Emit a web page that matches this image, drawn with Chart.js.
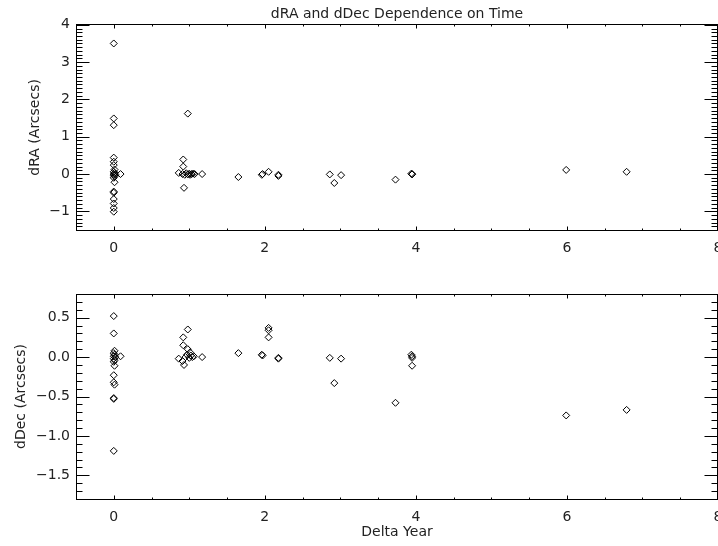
<!DOCTYPE html>
<html>
<head>
<meta charset="utf-8">
<script src="https://cdn.jsdelivr.net/npm/chart.js@4"></script>
<style>
    html, body { margin: 0; padding: 0; background: #fff; overflow: hidden; }
    .panel { position: absolute; left: 0; width: 718px; }
    #top { top: 0; height: 270px; }
    #bottom { top: 270px; height: 276px; }
</style>
</head>
<body>
<div class="panel" id="top"><canvas id="raChart"></canvas></div>
<div class="panel" id="bottom"><canvas id="decChart"></canvas></div>
<script>
// tick labels
const yearTicks = [0, 2, 4, 6, 8];
const raTicks = [-1, 0, 1, 2, 3, 4];
const decTicks = [-1.5, -1.0, -0.5, 0.0, 0.5];

// dRA vs delta year
const raYear = [
    0.00, 0.00, 0.00, 0.00, 0.00, 0.00, 0.01, 0.00, 0.01, 0.00, 0.02, 0.00, 0.01, 0.00, 0.01,
    0.00, 0.00, 0.00, 0.00, 0.00, 0.00, 0.09,
    0.86, 0.92, 0.92, 0.91, 0.93, 0.94, 0.96, 0.98, 0.98, 1.00, 1.01, 1.03, 1.05, 1.07, 1.17, 1.65,
    1.96, 1.97, 2.05, 2.18, 2.18, 2.86, 2.92, 3.01, 3.73, 3.94, 3.95, 3.95, 5.99, 6.79
];
const raValue = [
    3.50, 1.49, 1.31, 0.44, 0.33, 0.24, 0.12, 0.06, 0.03, 0.00, -0.01, -0.03, -0.06, -0.10, -0.22,
    -0.47, -0.50, -0.67, -0.79, -0.91, -1.01, 0.00,
    0.03, 0.39, 0.20, 0.00, -0.37, -0.02, 0.02, 1.62, -0.01, 0.01, -0.02, 0.00, 0.01, 0.00, 0.00, -0.08,
    -0.02, 0.00, 0.06, -0.02, -0.05, -0.01, -0.24, -0.03, -0.15, 0.01, -0.01, 0.00, 0.11, 0.06
];

// dDec vs delta year
const decYear = [
    0.00, 0.00, 0.01, 0.00, 0.01, 0.00, 0.02, 0.00, 0.01, 0.00, 0.01, 0.00, 0.00, 0.01, 0.00,
    0.00, 0.00, 0.09,
    0.86, 0.92, 0.92, 0.91, 0.93, 0.98, 0.98, 0.95, 0.97, 1.00, 1.01, 1.02, 1.04, 1.06, 1.17, 1.65,
    1.96, 1.97, 2.05, 2.05, 2.05, 2.18, 2.18, 2.86, 2.92, 3.01, 3.73, 3.94, 3.95, 3.95, 3.95, 5.99, 6.79
];
const decValue = [
    0.52, 0.30, 0.08, 0.05, 0.03, 0.01, 0.00, -0.02, -0.04, -0.06, -0.11, -0.23, -0.32, -0.35, -0.52,
    -0.53, -1.19, 0.01,
    -0.02, 0.25, 0.15, -0.05, -0.10, 0.35, 0.10, 0.00, 0.03, -0.01, 0.06, 0.02, 0.00, 0.01, 0.00, 0.05,
    0.03, 0.02, 0.37, 0.34, 0.25, -0.02, -0.01, -0.01, -0.33, -0.02, -0.58, 0.03, 0.01, -0.01, -0.11, -0.74, -0.67
];

Chart.defaults.font.family = 'DejaVu Sans';
Chart.defaults.font.size = 14;
Chart.defaults.color = '#222';

const minus = s => s.replace('-', '\u2212');

// IDL style box with inward ticks on all four sides
function idlFrame(tk) {
    return {
        id: 'idlFrame',
        beforeDatasetsDraw(chart) {
            const { ctx, chartArea: a, scales: { x, y } } = chart;
            const L = Math.floor(a.left) + 0.5;
            const R = Math.ceil(a.right) - 0.5;
            const T = Math.floor(a.top) + 0.5;
            const B = Math.floor(a.bottom) + 0.5;
            const isMajor = (scale, v) => scale.ticks.some(t => Math.abs(t.value - v) < 1e-6);

            ctx.save();
            ctx.strokeStyle = '#000';
            ctx.lineWidth = 1;
            ctx.strokeRect(L, T, R - L, B - T);
            ctx.beginPath();

            const x0 = Math.ceil(x.min / tk.xStep - 1e-6);
            for (let i = x0; i * tk.xStep <= x.max + 1e-6; i++) {
                const v = i * tk.xStep;
                const px = Math.round(x.getPixelForValue(v)) + 0.5;
                const len = isMajor(x, v) ? tk.xMajor : tk.xMinor;
                ctx.moveTo(px, B); ctx.lineTo(px, B - len);
                ctx.moveTo(px, T); ctx.lineTo(px, T + len);
            }

            const y0 = Math.ceil(y.min / tk.yStep - 1e-6);
            for (let i = y0; i * tk.yStep <= y.max + 1e-6; i++) {
                const v = i * tk.yStep;
                const py = Math.round(y.getPixelForValue(v)) + 0.5;
                const len = isMajor(y, v) ? tk.yMajor : tk.yMinor;
                ctx.moveTo(L, py); ctx.lineTo(L + len, py);
                ctx.moveTo(R, py); ctx.lineTo(R - len, py);
            }
            ctx.stroke();
            ctx.restore();
        }
    };
}

function noPad(scale) {
    scale.paddingLeft = 0;
    scale.paddingRight = 0;
    scale.paddingTop = 0;
    scale.paddingBottom = 0;
}

function makePanel(id, opt) {
    const points = opt.xs.map((v, i) => ({ x: v, y: opt.ys[i] }));

    const config = {
        type: 'scatter',
        data: {
            datasets: [{
                data: points,
                pointStyle: 'rectRot',
                radius: 3.5,
                borderWidth: 1,
                borderColor: '#000',
                backgroundColor: 'rgba(0,0,0,0)'
            }]
        },
        options: {
            responsive: true,
            maintainAspectRatio: false,
            animation: false,
            events: [],
            layout: {
                autoPadding: false,
                padding: { left: 0, right: 0, top: opt.padTop, bottom: 0 }
            },
            plugins: {
                legend: { display: false },
                tooltip: { enabled: false },
                title: {
                    display: !!opt.title,
                    text: opt.title,
                    fullSize: false,
                    color: '#222',
                    font: { size: 14, weight: 'normal' },
                    padding: { top: 6, bottom: 2 }
                }
            },
            scales: {
                x: {
                    type: 'linear',
                    min: -0.5,
                    max: 8,
                    afterBuildTicks: scale => { scale.ticks = yearTicks.map(v => ({ value: v })); },
                    afterFit: scale => { scale.height = opt.xHeight; noPad(scale); },
                    grid: { display: false, drawTicks: false },
                    border: { display: false },
                    ticks: { padding: 10, maxRotation: 0, callback: v => minus(String(v)) },
                    title: {
                        display: !!opt.xTitle,
                        text: opt.xTitle,
                        padding: { top: 0, bottom: 5 }
                    }
                },
                y: {
                    min: opt.yMin,
                    max: opt.yMax,
                    afterBuildTicks: scale => { scale.ticks = opt.yTicks.map(v => ({ value: v })); },
                    afterFit: scale => { scale.width = 76; noPad(scale); },
                    grid: { display: false, drawTicks: false },
                    border: { display: false },
                    ticks: { padding: 6, callback: v => minus(opt.fmt(v)) },
                    title: {
                        display: true,
                        text: opt.yTitle,
                        padding: { top: opt.yTitlePad, bottom: 0 }
                    }
                }
            }
        },
        plugins: [idlFrame({ xStep: 0.5, yStep: 0.1, xMajor: 4, xMinor: 2, yMajor: 13, yMinor: 6 })]
    };

    const ctx = document.getElementById(id).getContext('2d');
    if (ctx) {
        new Chart(ctx, config);
    }
}

makePanel('raChart', {
    xs: raYear, ys: raValue,
    title: 'dRA and dDec Dependence on Time',
    padTop: 0,
    xHeight: 40,
    yMin: -1.5, yMax: 4, yTicks: raTicks,
    fmt: v => String(v),
    yTitle: 'dRA (Arcsecs)',
    yTitlePad: 27
});

makePanel('decChart', {
    xs: decYear, ys: decValue,
    title: '',
    padTop: 24,
    xHeight: 47,
    xTitle: 'Delta Year',
    yMin: -1.8, yMax: 0.8, yTicks: decTicks,
    fmt: v => v.toFixed(1),
    yTitle: 'dDec (Arcsecs)',
    yTitlePad: 13
});
</script>
</body>
</html>
